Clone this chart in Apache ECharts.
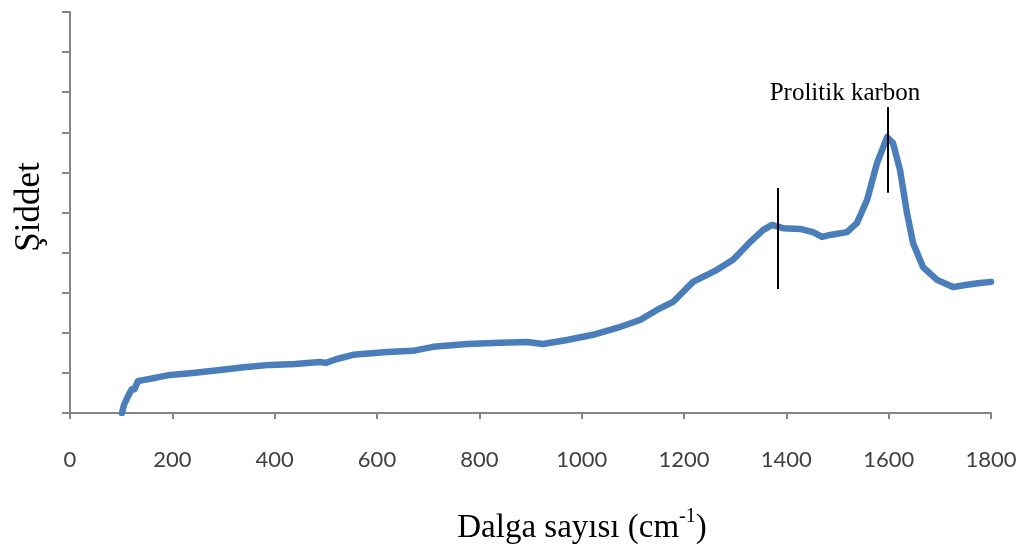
<!DOCTYPE html>
<html>
<head>
<meta charset="utf-8">
<script src="https://cdn.jsdelivr.net/npm/echarts@6/dist/echarts.min.js"></script>
<style>
  html, body { margin: 0; padding: 0; background: #fff; }
  #chart { width: 1024px; height: 550px; }
</style>
</head>
<body>
<div id="chart"></div>
<script>
// Raman spectrum: wavenumber (cm-1) vs. relative intensity
const wavenumbers = [
  101.6, 105.5, 113.4, 121.2, 126.0, 132.9, 142.7, 160.0, 195.4, 240.0,
  293.2, 340.0, 390.9, 440.0, 488.6, 500.0, 520.0, 553.1, 619.5, 670.3,
  709.4, 775.9, 840.4, 893.2, 924.4, 971.3, 1022.1, 1069.0, 1114.0, 1147.2,
  1178.5, 1217.6, 1264.5, 1295.8, 1329.0, 1354.4, 1372.0, 1393.5, 1426.7, 1452.1,
  1470.0, 1485.4, 1518.6, 1538.1, 1557.7, 1577.2, 1590.0, 1596.8, 1608.5, 1622.2,
  1635.8, 1647.6, 1667.1, 1694.5, 1725.7, 1750.0, 1778.5, 1800.0
];
const intensity = [
  0.0, 2.0, 4.2, 6.0, 5.9, 8.0, 8.2, 8.6, 9.5, 10.0,
  10.7, 11.4, 12.0, 12.2, 12.7, 12.5, 13.4, 14.5, 15.2, 15.5,
  16.5, 17.2, 17.5, 17.7, 17.2, 18.2, 19.5, 21.2, 23.2, 25.7,
  27.7, 32.7, 35.7, 38.2, 42.6, 45.6, 46.9, 46.1, 45.9, 45.1,
  43.9, 44.4, 45.1, 47.4, 53.1, 62.3, 66.5, 68.8, 67.3, 60.6,
  49.9, 42.4, 36.4, 33.2, 31.4, 31.9, 32.4, 32.7
];
const xTicks = { min: 0, max: 1800, interval: 200 };
const yTicks = { min: 0, max: 100, interval: 10 };

// Band markers: [wavenumber, lower intensity, upper intensity]
const bandMarkers = [
  [1384, 30.9, 56.1],
  [1599, 54.9, 76.3]
];
const bandLabel = 'Prolitik karbon';
const xTitle = 'Dalga sayısı (cm';
const xTitleSup = '-1';
const yTitle = 'Şiddet';

const seriesData = wavenumbers.map((w, i) => [w, intensity[i]]);

const chart = echarts.init(document.getElementById('chart'));
const axisGray = '#868686';

chart.setOption({
  animation: false,
  backgroundColor: '#ffffff',
  grid: { left: 70, right: 33, top: 12, bottom: 137, outerBoundsMode: 'none' },
  xAxis: {
    type: 'value',
    min: xTicks.min, max: xTicks.max, interval: xTicks.interval,
    axisLine: { show: true, lineStyle: { color: axisGray, width: 2 } },
    axisTick: { show: true, length: 6, lineStyle: { color: axisGray, width: 2 } },
    axisLabel: {
      margin: 36, fontFamily: 'Lato', fontSize: 22, color: '#404040',
      formatter: v => String(v)
    },
    splitLine: { show: false }
  },
  yAxis: {
    type: 'value',
    min: yTicks.min, max: yTicks.max, interval: yTicks.interval,
    axisLine: { show: true, lineStyle: { color: axisGray, width: 2 } },
    axisTick: { show: true, length: 8, lineStyle: { color: axisGray, width: 2 } },
    axisLabel: { show: false },
    splitLine: { show: false }
  },
  series: [{
    type: 'line',
    data: seriesData,
    showSymbol: false,
    smooth: false,
    lineStyle: { color: '#4a7ebb', width: 6.5, join: 'round', cap: 'round' },
    markLine: {
      silent: true,
      symbol: ['none', 'none'],
      label: { show: false },
      lineStyle: { color: '#000000', width: 2, type: 'solid' },
      data: bandMarkers.map(m => [{ coord: [m[0], m[1]] }, { coord: [m[0], m[2]] }])
    },
    z: 2
  }],
  graphic: [
    {
      type: 'text', x: 845, y: 93,
      style: {
        text: bandLabel, fill: '#000',
        font: '25px "Liberation Serif"',
        textAlign: 'center', textVerticalAlign: 'middle'
      }
    },
    {
      type: 'text', x: 30, y: 207, rotation: Math.PI / 2,
      style: {
        text: yTitle, fill: '#000',
        font: '35px "Liberation Serif"',
        textAlign: 'center', textVerticalAlign: 'middle'
      }
    },
    {
      type: 'text', x: 582, y: 526,
      style: {
        text: '{a|' + xTitle + '}{s|' + xTitleSup + '}{a|)}',
        textAlign: 'center', textVerticalAlign: 'middle',
        rich: {
          a: { fontFamily: 'Liberation Serif', fontSize: 33, fill: '#000', verticalAlign: 'bottom', lineHeight: 38 },
          s: { fontFamily: 'Liberation Serif', fontSize: 20, fill: '#000', verticalAlign: 'top', lineHeight: 38 }
        }
      }
    }
  ]
});
</script>
</body>
</html>
